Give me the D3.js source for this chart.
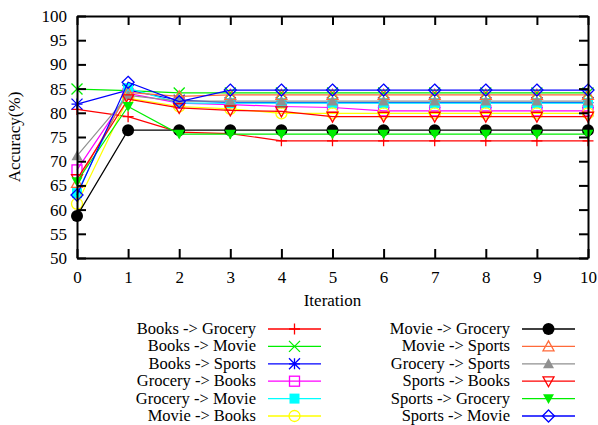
<!DOCTYPE html>
<html>
<head>
<meta charset="utf-8">
<script src="https://cdn.jsdelivr.net/npm/d3@7"></script>
<style>
  html, body { margin: 0; padding: 0; background: #fff; }
  svg { display: block; }
  text { font-family: "Liberation Serif", "DejaVu Serif", serif; font-size: 17px; fill: #000; }
</style>
</head>
<body>
<svg id="chart" width="598" height="425"></svg>
<script>
// Iterations on the x axis
const iterations = [0, 1, 2, 3, 4, 5, 6, 7, 8, 9, 10];
const xTicks = [0, 1, 2, 3, 4, 5, 6, 7, 8, 9, 10];
const yTicks = [50, 55, 60, 65, 70, 75, 80, 85, 90, 95, 100];

// Accuracy (%) per transfer direction, one value per iteration
const booksGrocery   = [80.7, 79.2, 76.0, 75.7, 74.2, 74.2, 74.2, 74.2, 74.2, 74.2, 74.2];
const booksMovie     = [84.9, 84.6, 84.1, 84.1, 84.1, 84.1, 84.1, 84.1, 84.1, 84.1, 84.1];
const booksSports    = [81.8, 84.7, 82.6, 82.1, 82.1, 82.1, 82.1, 82.1, 82.1, 82.1, 82.1];
const groceryBooks   = [68.2, 84.0, 82.0, 81.7, 81.3, 81.1, 80.4, 80.4, 80.4, 80.4, 80.4];
const groceryMovie   = [63.4, 85.1, 82.0, 82.0, 82.0, 82.0, 82.0, 82.0, 82.0, 82.0, 82.0];
const movieBooks     = [61.2, 83.0, 81.3, 80.8, 79.9, 79.9, 79.9, 79.9, 79.9, 79.9, 79.9];
const movieGrocery   = [58.7, 76.4, 76.4, 76.4, 76.4, 76.4, 76.4, 76.4, 76.4, 76.4, 76.4];
const movieSports    = [65.5, 84.2, 83.4, 83.7, 83.7, 83.7, 83.7, 83.7, 83.7, 83.7, 83.7];
const grocerySports  = [71.1, 83.6, 82.4, 82.4, 82.4, 82.4, 82.4, 82.4, 82.4, 82.4, 82.4];
const sportsBooks    = [66.3, 82.8, 81.0, 80.5, 80.3, 79.2, 79.2, 79.2, 79.2, 79.2, 79.2];
const sportsGrocery  = [65.8, 81.3, 75.6, 75.6, 75.6, 75.6, 75.6, 75.6, 75.6, 75.6, 75.6];
const sportsMovie    = [63.0, 86.3, 82.3, 84.7, 84.7, 84.7, 84.7, 84.7, 84.7, 84.7, 84.7];

const seriesNames = [
  "Books -> Grocery", "Books -> Movie", "Books -> Sports",
  "Grocery -> Books", "Grocery -> Movie", "Movie -> Books",
  "Movie -> Grocery", "Movie -> Sports", "Grocery -> Sports",
  "Sports -> Books", "Sports -> Grocery", "Sports -> Movie"
];
const seriesValues = [
  booksGrocery, booksMovie, booksSports,
  groceryBooks, groceryMovie, movieBooks,
  movieGrocery, movieSports, grocerySports,
  sportsBooks, sportsGrocery, sportsMovie
];
const seriesColors = [
  "#ff0000", "#00ee00", "#0000ff",
  "#ff00ff", "#00ffff", "#ffff00",
  "#000000", "#ff6a3a", "#909090",
  "#ff0000", "#00ee00", "#0000ff"
];
const seriesMarkers = [
  "plus", "cross", "star",
  "square", "squareFilled", "circle",
  "circleFilled", "triangle", "triangleFilled",
  "triangleDown", "triangleDownFilled", "diamond"
];

const svg = d3.select("#chart");
const margin = { left: 77, right: 10, top: 16, bottom: 167 };
const W = 598, H = 425;
const x = d3.scaleLinear().domain([0, 10]).range([margin.left, W - margin.right]);
const y = d3.scaleLinear().domain([50, 100]).range([H - margin.bottom, margin.top]);

// Marker drawing: appends a marker of the given type centred on (cx, cy)
function drawMarker(g, type, color, cx, cy) {
  const s = 5.5;
  const m = g.append("g").attr("transform", `translate(${cx},${cy})`);
  const applyStroke = sel => sel.attr("stroke", color).attr("stroke-width", 1.3).attr("fill", "none");
  switch (type) {
    case "plus":
      applyStroke(m.append("path").attr("d", `M${-s},0H${s}M0,${-s}V${s}`));
      break;
    case "cross":
      applyStroke(m.append("path").attr("d", `M${-s},${-s}L${s},${s}M${-s},${s}L${s},${-s}`));
      break;
    case "star":
      applyStroke(m.append("path").attr("d",
        `M${-s},0H${s}M0,${-s}V${s}M${-s},${-s}L${s},${s}M${-s},${s}L${s},${-s}`));
      break;
    case "square":
      applyStroke(m.append("rect").attr("x", -s + 0.5).attr("y", -s + 0.5)
        .attr("width", 2 * s - 1).attr("height", 2 * s - 1));
      break;
    case "squareFilled":
      m.append("rect").attr("x", -s + 0.5).attr("y", -s + 0.5)
        .attr("width", 2 * s - 1).attr("height", 2 * s - 1).attr("fill", color);
      break;
    case "circle":
      applyStroke(m.append("circle").attr("r", s));
      break;
    case "circleFilled":
      m.append("circle").attr("r", s + 0.5).attr("fill", color);
      break;
    case "triangle":
      applyStroke(m.append("path").attr("d", `M0,${-s}L${s},${s * 0.8}L${-s},${s * 0.8}Z`));
      break;
    case "triangleFilled":
      m.append("path").attr("d", `M0,${-s}L${s},${s * 0.8}L${-s},${s * 0.8}Z`).attr("fill", color);
      break;
    case "triangleDown":
      applyStroke(m.append("path").attr("d", `M0,${s}L${s},${-s * 0.8}L${-s},${-s * 0.8}Z`));
      break;
    case "triangleDownFilled":
      m.append("path").attr("d", `M0,${s}L${s},${-s * 0.8}L${-s},${-s * 0.8}Z`).attr("fill", color);
      break;
    case "diamond":
      applyStroke(m.append("path").attr("d", `M0,${-s - 0.5}L${s + 0.5},0L0,${s + 0.5}L${-s - 0.5},0Z`));
      break;
  }
  return m;
}

// Series lines and markers, in order so later series sit on top
const line = d3.line().x((d, i) => x(iterations[i])).y(d => y(d));
const plot = svg.append("g");
seriesValues.forEach((vals, k) => {
  const g = plot.append("g");
  g.append("path").datum(vals).attr("d", line)
    .attr("fill", "none").attr("stroke", seriesColors[k]).attr("stroke-width", 1.2);
  vals.forEach((v, i) => drawMarker(g, seriesMarkers[k], seriesColors[k], x(iterations[i]), y(v)));
});

// Axes with inward ticks, mirrored on the top and right borders
const tickLen = 9;
const axisG = svg.append("g");
const xBottom = d3.axisBottom(x).tickValues(xTicks).tickSizeInner(-tickLen).tickSizeOuter(0).tickPadding(13);
const xTop = d3.axisTop(x).tickValues(xTicks).tickSizeInner(-tickLen).tickSizeOuter(0).tickFormat("");
const yLeft = d3.axisLeft(y).tickValues(yTicks).tickSizeInner(-tickLen).tickSizeOuter(0).tickPadding(10);
const yRight = d3.axisRight(y).tickValues(yTicks).tickSizeInner(-tickLen).tickSizeOuter(0).tickFormat("");

const gxb = axisG.append("g").attr("transform", `translate(0,${y(50)})`).call(xBottom);
const gxt = axisG.append("g").attr("transform", `translate(0,${y(100)})`).call(xTop);
const gyl = axisG.append("g").attr("transform", `translate(${x(0)},0)`).call(yLeft);
const gyr = axisG.append("g").attr("transform", `translate(${x(10)},0)`).call(yRight);
[gxb, gxt, gyl, gyr].forEach(g => {
  g.selectAll(".domain").attr("stroke", "#000").attr("stroke-width", 2);
  g.selectAll(".tick line").attr("stroke", "#000").attr("stroke-width", 2);
  g.selectAll("text").attr("font-size", null).attr("font-family", null).style("font-size", "17px");
});
gxb.selectAll("text").attr("dy", "0.71em");

// Axis titles
svg.append("text").attr("x", (x(0) + x(10)) / 2).attr("y", 306)
  .attr("text-anchor", "middle").text("Iteration");
svg.append("text").attr("transform", `translate(20,${(y(50) + y(100)) / 2}) rotate(-90)`)
  .attr("text-anchor", "middle").text("Accuracy(%)");

// Legend: two columns of six entries
const legendRows = [329, 346.4, 363.8, 381.2, 398.6, 416];
const legendCols = [
  { textX: 256, x1: 268, x2: 321 },
  { textX: 510, x1: 522, x2: 575 }
];
const legend = svg.append("g");
seriesNames.forEach((name, k) => {
  const col = legendCols[Math.floor(k / 6)];
  const ly = legendRows[k % 6];
  const g = legend.append("g");
  g.append("text").attr("x", col.textX).attr("y", ly).attr("dy", "0.3em")
    .attr("text-anchor", "end").style("font-size", "16.5px").text(name);
  g.append("line").attr("x1", col.x1).attr("x2", col.x2).attr("y1", ly).attr("y2", ly)
    .attr("stroke", seriesColors[k]).attr("stroke-width", 1.3);
  drawMarker(g, seriesMarkers[k], seriesColors[k], (col.x1 + col.x2) / 2, ly);
});
</script>
</body>
</html>
